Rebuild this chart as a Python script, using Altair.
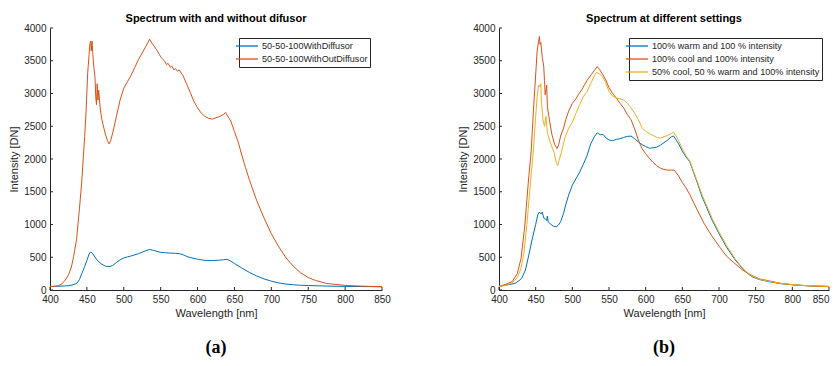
import altair as alt
import pandas as pd

# ---------- Panel (a): with / without diffusor ----------
a_with_wl = [400, 410, 420, 425, 430, 435, 438, 440, 443, 445, 447, 450, 453, 455, 457, 460, 463, 465,
             470, 475, 480, 485, 490, 495, 500, 505, 510, 520, 530, 535, 540, 545, 550, 560, 570, 575,
             580, 585, 590, 600, 610, 620, 630, 635, 640, 645, 650, 660, 670, 680, 690, 700, 710, 720,
             730, 740, 750, 775, 800, 850]
a_with_val = [55, 57, 62, 66, 75, 95, 125, 160, 250, 300, 360, 450, 550, 580, 570, 520, 470, 440,
              395, 365, 355, 375, 420, 460, 490, 505, 520, 555, 600, 620, 605, 590, 575, 565, 560, 555,
              540, 515, 495, 470, 452, 450, 455, 462, 468, 440, 405, 335, 270, 215, 170, 135, 108, 90,
              80, 72, 68, 60, 55, 50]

a_without_wl = [400, 410, 415, 420, 425, 429, 432, 436, 440, 443, 445, 447, 449, 451, 453, 454, 455, 456,
                457, 458, 459, 461, 462, 463, 464, 465, 466, 468, 470, 472, 475, 478, 480, 482, 485, 488,
                490, 495, 500, 505, 510, 515, 520, 525, 530, 535, 538, 540, 545, 548, 550, 553, 555, 558,
                560, 563, 565, 568, 570, 573, 575, 580, 585, 590, 595, 600, 605, 610, 615, 620, 625, 630,
                635, 638, 640, 645, 650, 655, 660, 665, 670, 680, 690, 700, 710, 720, 730, 740, 750, 760,
                775, 800, 825, 850]
a_without_val = [50, 62, 85, 140, 230, 350, 510, 770, 1250, 1650, 2000, 2340, 2750, 3300, 3600, 3750, 3800, 3650,
                 3800, 3620, 3450, 3250, 2950, 2830, 3150, 2900, 3050, 2780, 2620, 2520, 2380, 2280, 2230, 2270, 2400, 2550,
                 2650, 2900, 3080, 3180, 3280, 3400, 3520, 3620, 3720, 3830, 3770, 3740, 3660, 3600, 3560, 3520, 3500, 3440,
                 3460, 3400, 3420, 3360, 3380, 3340, 3360, 3280, 3150, 3020, 2880, 2780, 2700, 2650, 2620, 2610, 2630, 2650,
                 2680, 2710, 2670, 2580, 2420, 2260, 2060, 1870, 1690, 1370, 1100, 860, 660, 490, 360, 260, 190, 145,
                 100, 70, 58, 50]

# ---------- Panel (b): different settings ----------
b_warm_wl = [400, 409, 415, 422, 427, 431, 436, 440, 445, 450, 453, 455, 457, 459, 461, 463, 465, 466, 467,
             470, 474, 478, 481, 484, 488, 491, 495, 500, 505, 510, 515, 520, 525, 530, 534, 538, 542, 546,
             550, 555, 560, 565, 570, 575, 580, 585, 590, 595, 600, 605, 610, 615, 620, 625, 630, 635, 638,
             641, 645, 650, 655, 660, 670, 677, 690, 700, 710, 722, 735, 745, 755, 768, 785, 804, 825, 850]
b_warm_val = [55, 75, 85, 102, 140, 178, 305, 500, 763, 1000, 1150, 1190, 1160, 1190, 1100, 1090, 1060, 1130, 1040,
              1010, 975, 965, 990, 1040, 1170, 1300, 1450, 1600, 1700, 1800, 1920, 2050, 2230, 2340, 2400, 2370, 2375, 2320,
              2290, 2280, 2300, 2310, 2330, 2345, 2350, 2310, 2260, 2220, 2190, 2165, 2170, 2180, 2210, 2250, 2290, 2340, 2350,
              2300, 2230, 2120, 2030, 1960, 1650, 1420, 1080, 860, 660, 460, 290, 203, 160, 127, 95, 76, 63, 55]

b_cool_wl = [400, 409, 418, 425, 430, 435, 440, 444, 447, 449, 452, 455, 456, 457, 459, 461, 462, 463, 465,
             466, 468, 472, 476, 479, 481, 484, 488, 491, 495, 500, 505, 508, 513, 517, 520, 526, 530, 534,
             537, 541, 545, 550, 555, 560, 565, 570, 575, 580, 585, 590, 595, 600, 605, 610, 615, 620, 625,
             630, 635, 639, 645, 650, 655, 660, 670, 680, 690, 700, 710, 720, 732, 745, 755, 768, 785, 804,
             825, 850]
b_cool_val = [55, 87, 127, 254, 480, 960, 1650, 2137, 2750, 3100, 3650, 3870, 3750, 3780, 3550, 3420, 3200, 2980, 3130,
              2800, 2650, 2380, 2220, 2160, 2200, 2350, 2470, 2600, 2730, 2850, 2920, 2980, 3060, 3140, 3200, 3290, 3350, 3410,
              3370, 3300, 3220, 3090, 3000, 2930, 2850, 2780, 2680, 2600, 2460, 2290, 2160, 2080, 2010, 1950, 1900, 1860, 1840,
              1830, 1830, 1830, 1740, 1640, 1560, 1460, 1230, 1010, 830, 670, 520, 420, 305, 220, 170, 140, 100, 76,
              60, 50]

b_mix_wl = [400, 410, 415, 420, 425, 430, 434, 438, 443, 447, 450, 452, 454, 456, 457, 458, 460, 462, 464,
            466, 470, 475, 478, 480, 482, 485, 490, 495, 500, 505, 510, 515, 520, 525, 530, 533, 537, 540,
            545, 550, 555, 560, 565, 570, 575, 580, 585, 590, 595, 600, 605, 610, 615, 620, 625, 630, 635,
            638, 641, 645, 650, 655, 660, 670, 677, 690, 700, 710, 722, 735, 745, 755, 768, 785, 804, 825, 850]
b_mix_val = [55, 70, 95, 130, 190, 330, 570, 1000, 1650, 2150, 2650, 2950, 3130, 3100, 3150, 2850, 2600, 2500, 2650,
             2400, 2250, 2100, 1950, 1900, 1980, 2100, 2330, 2470, 2560, 2700, 2830, 2950, 3030, 3150, 3270, 3320, 3300, 3270,
             3180, 3030, 2960, 2930, 2920, 2900, 2850, 2780, 2700, 2600, 2480, 2420, 2390, 2360, 2330, 2320, 2340, 2360, 2390,
             2410, 2360, 2280, 2160, 2050, 1975, 1670, 1450, 1110, 885, 685, 475, 300, 212, 165, 132, 100, 78, 65, 55]

x_ticks = [400, 450, 500, 550, 600, 650, 700, 750, 800, 850]
y_ticks = [0, 500, 1000, 1500, 2000, 2500, 3000, 3500, 4000]

names_a = ["50-50-100WithDiffusor", "50-50-100WithOutDiffusor"]
names_b = ["100% warm and 100 % intensity", "100% cool and 100% intensity",
           "50% cool, 50 % warm and 100% intensity"]
colors_a = ["#0072BD", "#D95319"]
colors_b = ["#0072BD", "#D95319", "#EDB120"]

H = 262
FONT = "Liberation Sans"
AX = "#262626"


def build(series, names, colors, title, tag, label_expr, W, leg_x, last_align):
    rows = []
    for name, (wl, val) in zip(names, series):
        for i, (w, v) in enumerate(zip(wl, val)):
            rows.append({"wl": w, "I": v, "s": name, "o": i})
    df = pd.DataFrame(rows)
    xs = alt.Scale(domain=[400, 850], nice=False, zero=False)
    ys = alt.Scale(domain=[0, 4000], nice=False)
    xenc = alt.X("wl:Q", scale=xs, axis=alt.Axis(
        values=x_ticks, title="Wavelength [nm]", titlePadding=3, labelFlush=False, format="d",
        labelAlign={"condition": {"test": "datum.value == 850", "value": last_align},
                    "value": "center"}))
    yenc = alt.Y("I:Q", scale=ys, axis=alt.Axis(values=y_ticks, title="Intensity [DN]",
                                                 titlePadding=4, format="d"))
    lines = alt.Chart(df).mark_line(strokeWidth=1, clip=True).encode(
        x=xenc,
        y=yenc,
        color=alt.Color("s:N", sort=names, scale=alt.Scale(domain=names, range=colors),
                        legend=alt.Legend(title=None, orient="none", legendX=leg_x, legendY=10,
                                          symbolType="M-2.2,0H2.2", symbolSize=100,
                                          symbolStrokeWidth=1.3, symbolFillColor="transparent",
                                          labelFontSize=9.1,
                                          labelFont=FONT, labelColor=AX, labelLimit=400,
                                          strokeColor=AX, fillColor="white", padding=2,
                                          rowPadding=1, labelOffset=9,
                                          labelExpr=label_expr)),
        detail="s:N",
        order="o:Q",
    )
    xt = alt.Chart(pd.DataFrame({"wl": x_ticks})).mark_rule(color=AX, strokeWidth=1).encode(
        x=xenc, y=alt.value(H), y2=alt.value(H - 3))
    yt = alt.Chart(pd.DataFrame({"I": y_ticks})).mark_rule(color=AX, strokeWidth=1).encode(
        y=yenc, x=alt.value(0), x2=alt.value(3))
    lab = alt.Chart(pd.DataFrame({"t": [tag]})).mark_text(
        font="Liberation Serif", fontSize=18, fontWeight="bold", color="black",
        baseline="middle").encode(text="t:N", x=alt.value(W / 2), y=alt.value(H + 58))
    return alt.layer(lines, xt, yt, lab).properties(
        width=W, height=H,
        title=alt.TitleParams(title, font=FONT, fontSize=11, fontWeight="bold",
                              color="black", offset=-1))


pa = build([(a_with_wl, a_with_val), (a_without_wl, a_without_val)], names_a, colors_a,
           "Spectrum with and without difusor", "(a)", "datum.label + '         '", 332, 189,
           "center")
pb = build([(b_warm_wl, b_warm_val), (b_cool_wl, b_cool_val), (b_mix_wl, b_mix_val)],
           names_b, colors_b, "Spectrum at different settings", "(b)", "datum.label", 330, 130,
           "right")

chart = alt.hconcat(pa, pb, spacing=66).resolve_scale(color="independent").properties(
    padding={"left": 0, "top": 5, "right": 0, "bottom": 0}
).configure_view(stroke=None).configure_axis(
    domainColor=AX, domainWidth=1, labelColor=AX, titleColor=AX, labelFont=FONT, titleFont=FONT,
    labelFontSize=10, titleFontSize=11, titleFontWeight="normal", ticks=False, labelPadding=4,
    grid=False
)

chart.save("out.html", embed_options={"renderer": "svg", "actions": False})
